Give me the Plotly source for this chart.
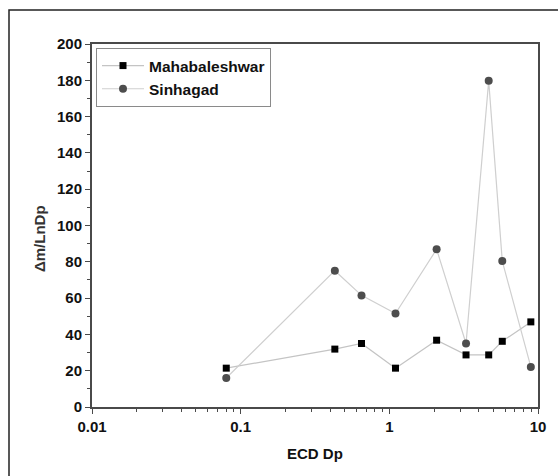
import plotly.graph_objects as go

# Data
ecd_dp = [0.08, 0.43, 0.65, 1.10, 2.08, 3.28, 4.66, 5.75, 8.95]
mahabaleshwar = [21.4, 31.9, 35.0, 21.4, 36.8, 28.7, 28.7, 36.2, 46.9]
sinhagad = [16.0, 75.1, 61.5, 51.5, 86.9, 35.0, 179.7, 80.4, 22.1]
series_names = ["Mahabaleshwar", "Sinhagad"]
x_title = "ECD Dp"
y_title = "Δm/LnDp"
y_ticks = [0, 20, 40, 60, 80, 100, 120, 140, 160, 180, 200]
x_ticks = [0.01, 0.1, 1, 10]
x_ticklabels = ["0.01", "0.1", "1", "10"]

FONT = "Liberation Sans, Arial, Helvetica, sans-serif"
AXIS_COLOR = "#4a4a4a"

fig = go.Figure()
fig.add_trace(go.Scatter(
    x=ecd_dp, y=mahabaleshwar, name=series_names[0], mode="lines+markers",
    line=dict(color="#c4c4c4", width=1.2),
    marker=dict(symbol="square", size=7, color="#000000"),
))
fig.add_trace(go.Scatter(
    x=ecd_dp, y=sinhagad, name=series_names[1], mode="lines+markers",
    line=dict(color="#cfcfcf", width=1.2),
    marker=dict(symbol="circle", size=8, color="#4d4d4d"),
))

W, H = 558, 476
L, R, T, B = 92, 20, 44, 69
pw, ph = W - L - R, H - T - B


def px_x(px):
    return (px - L) / pw


def px_y(py):
    return (H - B - py) / ph


fig.update_layout(
    width=W, height=H,
    margin=dict(l=L, r=R, t=T, b=B),
    paper_bgcolor="white", plot_bgcolor="white",
    showlegend=True,
    legend=dict(
        x=px_x(96), y=px_y(48), xanchor="left", yanchor="top",
        bordercolor="#8a8a8a", borderwidth=1, bgcolor="white",
        font=dict(family=FONT, size=15.5, color="#111111", weight="bold"),
        itemwidth=42, tracegroupgap=0,
    ),
    xaxis=dict(
        type="log", range=[-2, 1],
        tickvals=x_ticks, ticktext=x_ticklabels,
        ticks="outside", ticklen=5, tickwidth=1.2, tickcolor=AXIS_COLOR,
        minor=dict(ticks="outside", ticklen=3, tickwidth=1, tickcolor=AXIS_COLOR,
                   dtick="D1", showgrid=False),
        showline=True, linecolor=AXIS_COLOR, linewidth=2, mirror=True,
        showgrid=False, zeroline=False,
        tickfont=dict(family=FONT, size=15, color="#111111", weight="bold"),
    ),
    yaxis=dict(
        range=[0, 200], tickvals=y_ticks,
        ticks="outside", ticklen=5, tickwidth=1.2, tickcolor=AXIS_COLOR,
        minor=dict(ticks="outside", ticklen=3, tickwidth=1, tickcolor=AXIS_COLOR,
                   dtick=10, showgrid=False),
        showline=True, linecolor=AXIS_COLOR, linewidth=2, mirror=True,
        showgrid=False, zeroline=False,
        tickfont=dict(family=FONT, size=15, color="#111111", weight="bold"),
    ),
    annotations=[
        dict(text=x_title, xref="paper", yref="paper", x=px_x(315), y=px_y(453),
             xanchor="center", yanchor="middle", showarrow=False,
             font=dict(family=FONT, size=15, color="#111111", weight="bold")),
        dict(text=y_title, xref="paper", yref="paper", x=px_x(39), y=px_y(239),
             xanchor="center", yanchor="middle", showarrow=False, textangle=-90,
             font=dict(family=FONT, size=15, color="#333333", weight="bold")),
    ],
    shapes=[
        dict(type="rect", xref="paper", yref="paper",
             x0=px_x(9), x1=px_x(620), y0=px_y(540), y1=px_y(10),
             line=dict(color="#222222", width=1.5), fillcolor="rgba(0,0,0,0)",
             layer="below"),
    ],
)

fig.write_html("out.html")
